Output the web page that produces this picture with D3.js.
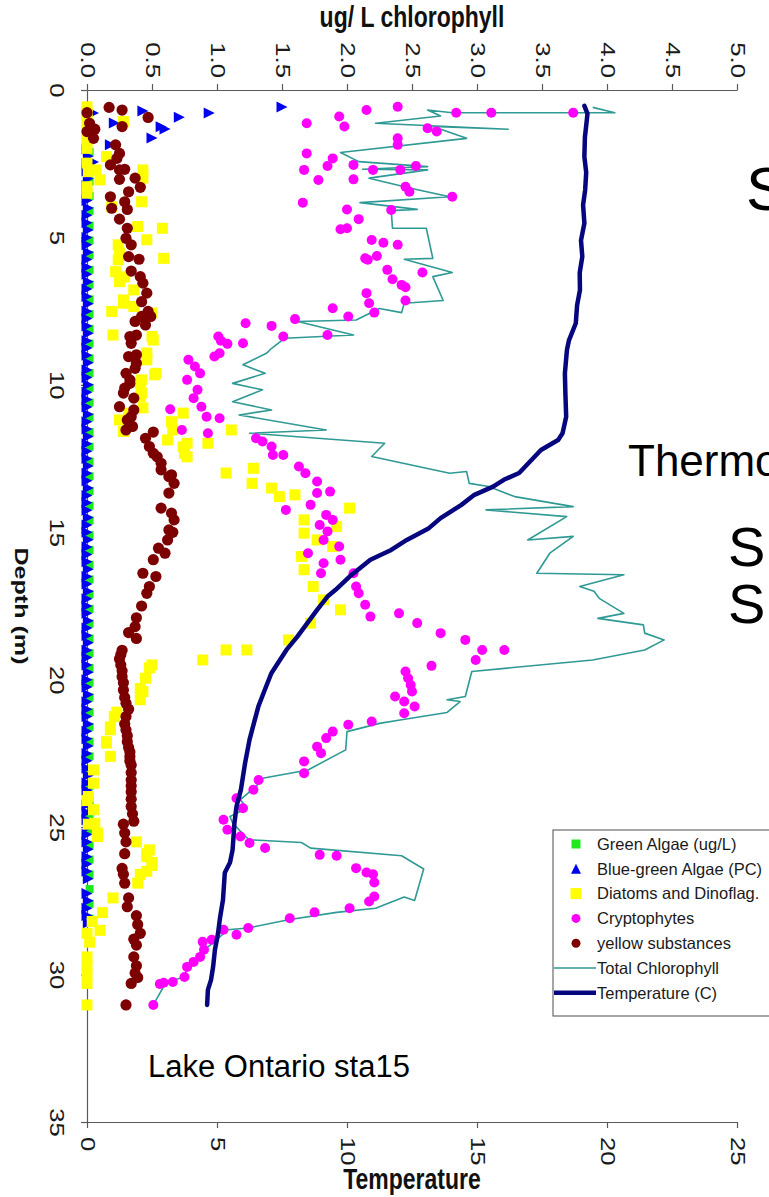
<!DOCTYPE html>
<html>
<head>
<meta charset="utf-8">
<script src="https://cdn.jsdelivr.net/npm/d3@7"></script>
<style>
  html, body { margin: 0; padding: 0; background: #ffffff; }
  svg { display: block; font-family: "Liberation Sans", Arial, Helvetica, sans-serif; }
</style>
</head>
<body>
<svg id="chart" width="769" height="1197"></svg>
<script>
// Vertical profile, Lake Ontario station 15: pigment groups (ug/L chlorophyll,
// top axis), total chlorophyll and temperature (bottom axis) against depth.

const chlTicks = [0, 0.5, 1, 1.5, 2, 2.5, 3, 3.5, 4, 4.5, 5];
const tempTicks = [0, 5, 10, 15, 20, 25];
const depthTicks = [0, 5, 10, 15, 20, 25, 30, 35];

// [depth (m), value]
const greenAlgae = [
  [2.1,0.02],[2.6,0.02],[3.1,0.02],[3.6,0.02],[4.1,0.02],[4.6,0.02],[5.1,0.02],[5.6,0.02],
  [6.1,0.02],[6.6,0.02],[7.1,0.02],[7.6,0.02],[8.1,0.02],[8.6,0.02],[9.1,0.02],[9.6,0.02],
  [10.1,0.02],[10.6,0.02],[11.1,0.02],[11.6,0.02],[12.1,0.02],[12.6,0.02],[13.1,0.02],[13.6,0.02],
  [14.1,0.02],[14.6,0.02],[15.1,0.02],[15.6,0.02],[16.1,0.02],[16.6,0.02],[17.1,0.02],[17.6,0.02],
  [18.1,0.02],[18.6,0.02],[19.1,0.02],[19.6,0.02],[20.1,0.02],[20.6,0.02],[21.1,0.02],[21.6,0.02],
  [22.1,0.02],[22.6,0.02],[23.1,0.02],[23.6,0.02],[24.1,0.02],[24.6,0.02],[25.1,0.02],[25.6,0.02],
  [26.1,0.02],[26.6,0.02],[27.1,0.02],[27.6,0.02],[28.1,0.02]
];

const blueGreen = [
  [0.58,1.50],[0.71,0.43],[0.78,0.94],[0.78,0.05],[0.92,0.71],[1.12,0.21],[1.25,0.57],
  [1.32,0.60],[1.63,0.50],[1.86,0.18],[2.44,0.05],
  [2.0,0.0],[2.25,0.01],[2.5,0.0],[2.75,0.0],[3.0,0.01],[3.25,0.0],[3.5,0.0],[3.75,0.0],
  [4.0,0.01],[4.25,0.0],[4.5,0.0],[4.75,0.01],[5.0,0.0],[5.25,0.0],[5.5,0.01],[5.75,0.0],
  [6.0,0.0],[6.25,0.0],[6.5,0.01],[6.75,0.0],[7.0,0.0],[7.25,0.01],[7.5,0.0],[7.75,0.0],
  [8.0,0.0],[8.25,0.01],[8.5,0.0],[8.75,0.0],[9.0,0.0],[9.25,0.01],[9.5,0.0],[9.75,0.0],
  [10.0,0.01],[10.25,0.0],[10.5,0.0],[10.75,0.0],[11.0,0.01],[11.25,0.0],[11.5,0.0],[11.75,0.01],
  [12.0,0.0],[12.25,0.0],[12.5,0.0],[12.75,0.01],[13.0,0.0],[13.25,0.0],[13.5,0.01],[13.75,0.0],
  [14.0,0.0],[14.25,0.0],[14.5,0.01],[14.75,0.0],[15.0,0.0],[15.25,0.01],[15.5,0.0],[15.75,0.0],
  [16.0,0.0],[16.25,0.01],[16.5,0.0],[16.75,0.0],[17.0,0.01],[17.25,0.0],[17.5,0.0],[17.75,0.0],
  [18.0,0.01],[18.25,0.0],[18.5,0.0],[18.75,0.01],[19.0,0.0],[19.25,0.0],[19.5,0.0],[19.75,0.01],
  [20.0,0.0],[20.25,0.0],[20.5,0.01],[20.75,0.0],[21.0,0.0],[21.25,0.0],[21.5,0.01],[21.75,0.0],
  [22.0,0.0],[22.25,0.01],[22.5,0.0],[22.75,0.0],[23.0,0.0],[23.25,0.01],[23.5,0.0],[23.75,0.0],
  [24.0,0.01],[24.25,0.0],[24.5,0.0],[24.75,0.0],[25.0,0.01],[25.25,0.0],[25.5,0.0],[25.75,0.01],
  [26.0,0.0],[26.25,0.0],[26.5,0.0],[26.75,0.01],[27.25,0.0],[27.5,0.01],[27.75,0.0],[28.0,0.0],
  [28.25,0.01]
];

const diatoms = [
  [0.57,0.0],[0.75,0.0],[0.85,0.0],[1.07,0.28],[1.13,0.0],[1.40,0.0],[1.70,0.0],[1.98,0.0],
  [2.26,0.15],[2.48,0.0],[2.71,0.07],[2.77,0.01],[2.71,0.43],[2.99,0.43],[3.05,0.10],[3.28,0.0],
  [3.50,0.0],[3.79,0.42],[3.96,0.19],[4.63,0.39],[4.69,0.58],[5.08,0.46],[5.25,0.24],[5.53,0.25],
  [5.71,0.59],[5.76,0.24],[6.16,0.22],[6.34,0.29],[6.50,0.25],[6.78,0.36],[7.12,0.28],[7.23,0.28],
  [7.34,0.36],[7.51,0.19],[7.56,0.50],[8.31,0.20],[8.36,0.50],[8.48,0.51],[8.92,0.46],[9.15,0.46],
  [9.61,0.53],[9.66,0.52],[9.83,0.42],[9.95,0.41],[10.28,0.42],[10.40,0.41],[10.78,0.43],[10.96,0.32],
  [11.19,0.25],[11.58,0.28],[10.96,0.74],[11.25,0.65],[11.53,0.66],[11.87,0.62],[11.98,0.77],[12.10,0.74],
  [12.32,0.75],[12.44,0.77],[11.98,0.93],[11.53,1.11],[12.99,1.07],[12.83,1.28],[13.34,1.27],[13.50,1.42],
  [13.79,1.48],[13.73,1.60],[14.18,2.02],[14.58,1.67],[14.80,1.92],[15.03,1.67],[15.26,1.77],[15.48,1.89],
  [15.82,1.65],[16.27,1.67],[16.84,1.74],[17.29,1.82],[17.63,1.95],[18.08,1.72],[18.65,1.55],[18.99,1.23],
  [18.99,1.07],[19.33,0.89],[19.50,0.50],[19.60,0.48],[19.95,0.45],[20.30,0.41],[20.40,0.43],[20.68,0.41],
  [21.10,0.23],[21.25,0.21],[21.60,0.18],[21.70,0.18],[22.10,0.15],[22.15,0.15],[22.60,0.18],[23.06,0.05],
  [23.51,0.05],[23.96,0.01],[24.10,0.0],[24.41,0.05],[24.87,0.06],[24.90,0.01],[25.20,0.08],[25.32,0.08],
  [25.50,0.38],[25.77,0.48],[25.90,0.46],[26.00,0.46],[26.20,0.50],[26.30,0.50],[26.50,0.46],[26.60,0.41],
  [26.90,0.39],[27.40,0.20],[27.90,0.12],[28.20,0.04],[28.50,0.10],[28.60,0.0],[28.90,0.02],[29.40,0.0],
  [29.70,0.0],[30.00,0.0],[30.30,0.0],[31.03,0.0]
];

const cryptophytes = [
  [0.57,2.39],[0.68,2.15],[0.77,2.84],[0.77,3.11],[0.77,3.74],[0.90,1.94],[1.13,1.69],[1.24,1.98],
  [1.30,2.62],[1.41,2.69],[1.64,2.39],[1.86,2.39],[2.15,1.69],[2.32,1.89],[2.54,2.05],[2.58,1.85],
  [2.58,2.53],[2.71,1.67],[2.71,2.20],[2.71,2.41],[3.03,2.05],[3.05,1.78],[3.28,2.45],[3.45,2.48],
  [3.62,2.81],[3.82,1.66],[4.05,2.00],[4.07,2.34],[4.38,2.09],[4.69,2.00],[4.72,1.95],[5.09,2.19],
  [5.18,2.28],[5.25,2.39],[5.63,2.23],[5.71,2.14],[5.76,2.16],[6.10,2.31],[6.19,2.58],[6.42,2.35],
  [6.61,2.42],[6.69,2.45],[6.89,2.15],[7.14,2.45],[7.23,2.17],[7.40,1.89],[7.55,2.21],[7.68,2.01],
  [7.77,1.60],[7.91,1.22],[8.00,1.42],[8.31,1.85],[8.36,1.51],[8.36,1.01],[8.50,1.03],[8.59,1.20],
  [8.61,1.08],[8.93,1.02],[9.04,0.98],[9.15,0.78],[9.38,0.83],[9.61,0.87],[9.83,0.77],[10.17,0.85],
  [10.45,0.82],[10.74,0.88],[10.83,0.64],[11.08,0.92],[11.13,1.02],[11.53,0.73],[11.64,0.93],[11.81,1.30],
  [11.92,1.35],[12.09,1.42],[12.38,1.43],[12.38,1.51],[12.77,1.63],[13.00,1.68],[13.28,1.77],[13.62,1.87],
  [13.67,1.77],[14.07,1.72],[14.24,1.53],[14.41,1.84],[14.58,1.89],[14.75,1.79],[14.97,1.85],[15.26,1.82],
  [15.48,1.94],[15.71,1.70],[15.93,1.95],[16.05,1.82],[16.39,2.05],[16.39,1.80],[16.84,2.07],[17.07,2.09],
  [17.46,2.14],[17.86,2.18],[17.75,2.40],[18.08,2.54],[18.42,2.72],[18.65,2.91],[18.99,3.04],[18.99,3.21],
  [19.33,2.99],[19.53,2.65],[19.72,2.45],[19.95,2.47],[20.18,2.49],[20.40,2.50],[20.57,2.37],[20.74,2.44],
  [20.91,2.52],[21.14,2.44],[21.42,2.19],[21.53,2.01],[21.76,1.89],[21.98,1.84],[22.27,1.77],[22.49,1.80],
  [22.77,1.67],[23.17,1.67],[23.40,1.32],[23.73,1.28],[24.02,1.15],[24.36,1.20],[24.75,1.05],[25.09,1.08],
  [25.32,1.18],[25.54,1.25],[25.71,1.37],[25.94,1.79],[25.97,1.92],[26.39,2.07],[26.54,2.15],[26.60,2.20],
  [26.88,2.21],[27.35,2.21],[27.52,2.17],[27.75,2.02],[27.89,1.75],[28.09,1.56],[28.42,1.24],[28.48,1.05],
  [28.65,1.15],[28.82,0.96],[28.89,0.89],[29.16,0.90],[29.40,0.87],[29.57,0.82],[29.74,0.77],[30.08,0.75],
  [30.25,0.66],[30.28,0.59],[30.32,0.56],[31.03,0.51]
];

const yellowSubstances = [
  [0.59,0.17],[0.68,0.27],[0.77,0.0],[0.93,0.47],[1.13,0.02],[1.24,0.27],[1.33,0.06],[1.41,0.0],
  [1.64,0.05],[1.86,0.22],[2.15,0.25],[2.32,0.23],[2.54,0.18],[2.69,0.29],[2.71,0.25],[2.99,0.37],
  [3.03,0.25],[3.30,0.41],[3.45,0.32],[3.62,0.18],[3.79,0.29],[4.01,0.19],[4.05,0.31],[4.38,0.25],
  [4.69,0.31],[5.03,0.30],[5.25,0.34],[5.65,0.32],[5.74,0.40],[6.14,0.34],[6.33,0.41],[6.55,0.43],
  [6.89,0.46],[7.18,0.42],[7.51,0.47],[7.68,0.49],[7.68,0.42],[7.85,0.37],[7.97,0.45],[8.31,0.38],
  [8.36,0.33],[8.59,0.34],[8.98,0.38],[9.04,0.32],[9.27,0.38],[9.44,0.37],[9.61,0.30],[9.83,0.33],
  [9.95,0.33],[10.11,0.29],[10.28,0.28],[10.45,0.36],[10.74,0.25],[10.85,0.36],[11.08,0.34],[11.19,0.31],
  [11.41,0.35],[11.53,0.30],[11.60,0.51],[11.81,0.45],[12.09,0.48],[12.32,0.51],[12.44,0.54],[12.66,0.57],
  [12.88,0.57],[13.05,0.65],[13.11,0.63],[13.34,0.67],[13.67,0.63],[14.18,0.57],[14.35,0.65],[14.58,0.67],
  [14.92,0.63],[15.00,0.66],[15.26,0.62],[15.54,0.55],[15.71,0.60],[15.93,0.51],[16.39,0.43],[16.50,0.53],
  [16.84,0.48],[17.07,0.46],[17.50,0.42],[17.90,0.38],[18.20,0.37],[18.40,0.32],[18.60,0.38],[19.00,0.27],
  [19.15,0.26],[19.30,0.25],[19.50,0.26],[19.70,0.27],[19.90,0.27],[20.10,0.28],[20.35,0.28],[20.60,0.29],
  [20.80,0.30],[21.00,0.32],[21.25,0.30],[21.50,0.29],[21.70,0.30],[21.90,0.31],[22.10,0.31],[22.30,0.32],
  [22.45,0.33],[22.60,0.33],[22.75,0.33],[22.90,0.34],[23.15,0.34],[23.40,0.34],[23.60,0.34],[23.80,0.34],
  [24.05,0.34],[24.30,0.34],[24.55,0.35],[24.80,0.36],[24.90,0.28],[25.20,0.29],[25.50,0.30],[25.90,0.29],
  [26.40,0.27],[26.60,0.28],[26.90,0.29],[27.40,0.32],[27.70,0.31],[28.00,0.38],[28.30,0.39],[28.60,0.41],
  [28.80,0.36],[29.00,0.38],[29.40,0.36],[29.70,0.38],[29.95,0.37],[30.10,0.39],[30.30,0.34],[31.03,0.30]
];

const totalChlorophyll = [
  [0.59,3.89],[0.77,4.06],[0.77,2.81],[0.68,2.62],[0.88,2.72],[1.13,2.22],[1.33,3.24],[1.24,2.66],
  [1.64,2.92],[2.12,1.95],[2.43,2.09],[2.60,2.62],[2.69,2.12],[2.71,2.62],[2.99,2.17],[3.33,2.49],
  [3.62,2.79],[3.82,2.10],[4.05,2.54],[4.09,2.34],[4.69,2.35],[4.69,2.61],[5.71,2.66],[5.74,2.44],
  [6.19,2.81],[6.33,2.66],[7.14,2.74],[7.23,2.44],[7.55,2.42],[7.41,2.25],[7.80,2.07],[7.85,1.62],
  [8.31,2.05],[8.42,1.52],[8.76,1.42],[8.93,1.38],[9.32,1.20],[9.61,1.37],[9.95,1.12],[10.17,1.35],
  [10.57,1.12],[10.85,1.42],[11.02,1.17],[11.53,1.84],[11.64,1.25],[11.98,2.29],[12.43,2.19],[13.00,2.79],
  [12.94,2.92],[13.34,2.94],[13.45,3.09],[13.79,3.29],[14.13,3.74],[14.24,3.07],[14.47,3.69],[15.26,3.39],
  [15.14,3.74],[15.71,3.56],[16.39,3.46],[16.44,4.13],[16.84,3.79],[17.00,3.90],[17.24,3.94],[17.75,4.13],
  [17.92,3.93],[18.14,4.28],[18.42,4.29],[18.65,4.44],[18.99,4.29],[19.33,3.89],[19.72,2.96],[20.57,2.91],
  [20.68,2.77],[20.74,2.87],[21.11,2.77],[21.36,2.42],[21.48,2.25],[21.76,2.00],[22.38,1.99],[23.06,1.70],
  [23.34,1.35],[23.62,1.30],[24.07,1.18],[24.36,1.23],[24.64,1.10],[24.86,1.12],[25.32,1.22],[25.43,1.25],
  [25.52,1.65],[25.71,1.72],[25.97,2.42],[26.42,2.59],[27.49,2.52],[27.37,2.44],[27.75,2.22],[27.89,1.92],
  [28.14,1.55],[28.42,1.24],[28.48,1.08],[28.82,1.00],[29.16,0.90],[29.40,0.87],[29.74,0.77],[30.08,0.75],
  [30.28,0.59],[30.40,0.59],[31.03,0.51]
];

const temperature = [
  [0.54,19.13],[0.80,19.25],[1.13,19.21],[1.60,19.15],[2.26,19.13],[2.80,19.20],[3.39,19.16],[3.90,19.08],
  [4.52,19.13],[5.10,19.00],[5.65,19.05],[6.20,18.95],[6.78,18.96],[7.30,18.85],[7.91,18.80],[8.48,18.54],
  [8.81,18.46],[9.61,18.38],[10.30,18.40],[11.08,18.43],[11.64,18.29],[11.87,18.12],[12.21,17.46],[12.99,16.62],
  [13.22,16.03],[13.45,15.62],[13.73,14.90],[14.07,14.40],[14.52,13.60],[14.86,13.15],[15.26,12.30],[15.60,11.70],
  [15.93,10.90],[16.50,10.10],[16.96,9.55],[17.18,9.25],[17.63,8.85],[18.54,8.09],[18.99,7.67],[19.78,7.09],
  [20.34,6.84],[20.91,6.59],[21.47,6.42],[22.04,6.25],[22.83,6.08],[23.73,5.92],[24.30,5.75],[24.87,5.67],
  [25.77,5.60],[26.20,5.50],[26.55,5.30],[27.47,5.23],[28.05,5.12],[28.60,5.04],[29.16,4.92],[29.74,4.85],
  [30.18,4.77],[30.52,4.65],[31.03,4.62]
];

const legendLabels = ["Green Algae (ug/L)", "Blue-green Algae (PC)", "Diatoms and Dinoflag.",
  "Cryptophytes", "yellow substances", "Total Chlorophyll", "Temperature (C)"];

// ---- layout ----
const plotL = 87, plotR = 737, plotT = 90, plotB = 1122;
const C = {
  green: "#1ee81e", blue: "#0000f0", yellow: "#ffff00", magenta: "#ff00ff",
  brown: "#7d0000", teal: "#2f9994", navy: "#06067e", axis: "#595959"
};

const svg = d3.select("#chart");
svg.append("rect").attr("width", 769).attr("height", 1197).attr("fill", "#fff");

const x = d3.scaleLinear().domain([0, 5]).range([plotL, plotR]);
const xT = d3.scaleLinear().domain([0, 25]).range([plotL, plotR]);
const y = d3.scaleLinear().domain([0, 35]).range([plotT, plotB]);

const TICK_FONT = 19.5, STRETCH = 1.32;

function styleAxis(g) {
  g.selectAll(".domain").attr("stroke", C.axis).attr("stroke-width", 1.2);
  g.selectAll(".tick line").attr("stroke", C.axis).attr("stroke-width", 1.2);
  g.selectAll(".tick text").attr("fill", "#1a1a1a").style("font-size", TICK_FONT + "px")
    .attr("x", null).attr("y", null).attr("dy", "0.35em");
}

// top axis: chlorophyll
const gTop = svg.append("g").attr("transform", `translate(0,${plotT})`)
  .call(d3.axisTop(x).tickValues(chlTicks).tickSize(6).tickSizeOuter(0).tickFormat(d3.format(".1f")));
styleAxis(gTop);
gTop.selectAll(".tick text").attr("text-anchor", "end")
  .attr("transform", `translate(0,-12) rotate(90) scale(${STRETCH},1)`);

// bottom axis: temperature
const gBot = svg.append("g").attr("transform", `translate(0,${plotB})`)
  .call(d3.axisBottom(xT).tickValues(tempTicks).tickSize(6).tickSizeOuter(0).tickFormat(d3.format("d")));
styleAxis(gBot);
gBot.selectAll(".tick text").attr("text-anchor", "start")
  .attr("transform", `translate(0,15) rotate(90) scale(${STRETCH},1)`);

// left axis: depth
const gLeft = svg.append("g").attr("transform", `translate(${plotL},0)`)
  .call(d3.axisLeft(y).tickValues(depthTicks).tickSize(6).tickSizeOuter(0).tickFormat(d3.format("d")));
styleAxis(gLeft);
gLeft.selectAll(".tick text").attr("text-anchor", "middle")
  .attr("transform", `translate(-30,0) rotate(90) scale(${STRETCH},1)`);

// axis titles
svg.append("text").attr("transform", `translate(${(plotL + plotR) / 2},27) scale(1,${STRETCH})`)
  .attr("text-anchor", "middle").style("font-size", "23px").style("font-weight", "bold")
  .attr("fill", "#111").text("ug/ L chlorophyll");
svg.append("text").attr("transform", `translate(${(plotL + plotR) / 2},1189) scale(1,${STRETCH})`)
  .attr("text-anchor", "middle").style("font-size", "23px").style("font-weight", "bold")
  .attr("fill", "#111").text("Temperature");
svg.append("text").attr("transform", `translate(22,${(plotT + plotB) / 2}) rotate(90) scale(${STRETCH},1)`)
  .attr("text-anchor", "middle").attr("dy", "0.35em").style("font-size", "19px").style("font-weight", "bold")
  .attr("fill", "#111").text("Depth (m)");

// ---- marks ----
const plot = svg.append("g");

const lineChl = d3.line().x(d => x(d[1])).y(d => y(d[0]));
const lineT = d3.line().x(d => xT(d[1])).y(d => y(d[0]));

plot.append("path").datum(totalChlorophyll).attr("d", lineChl)
  .attr("fill", "none").attr("stroke", C.teal).attr("stroke-width", 1.6).attr("stroke-linejoin", "round");

const sq = s => `M${-s / 2},${-s / 2}h${s}v${s}h${-s}Z`;
const triRight = s => `M${-s / 2},${-s / 2}L${s / 2},0L${-s / 2},${s / 2}Z`;
const triUp = s => `M0,${-s / 2}L${s / 2},${s / 2}L${-s / 2},${s / 2}Z`;

plot.append("g").selectAll("path").data(greenAlgae).join("path")
  .attr("d", sq(8)).attr("fill", C.green)
  .attr("transform", d => `translate(${x(d[1])},${y(d[0])})`);

plot.append("g").selectAll("path").data(blueGreen).join("path")
  .attr("d", triRight(11)).attr("fill", C.blue)
  .attr("transform", d => `translate(${x(d[1])},${y(d[0])})`);

plot.append("g").selectAll("path").data(diatoms).join("path")
  .attr("d", sq(11)).attr("fill", C.yellow)
  .attr("transform", d => `translate(${x(d[1])},${y(d[0])})`);

plot.append("g").selectAll("circle").data(cryptophytes).join("circle")
  .attr("cx", d => x(d[1])).attr("cy", d => y(d[0])).attr("r", 5).attr("fill", C.magenta);

plot.append("g").selectAll("circle").data(yellowSubstances).join("circle")
  .attr("cx", d => x(d[1])).attr("cy", d => y(d[0])).attr("r", 5.6).attr("fill", C.brown);

plot.append("path").datum(temperature).attr("d", lineT)
  .attr("fill", "none").attr("stroke", C.navy).attr("stroke-width", 4.5)
  .attr("stroke-linejoin", "round").attr("stroke-linecap", "round");

// ---- annotations ----
svg.append("text").attr("x", 148).attr("y", 1077).style("font-size", "31px").attr("fill", "#000")
  .text("Lake Ontario sta15");
svg.append("text").attr("x", 746).attr("y", 210).style("font-size", "62px").attr("fill", "#000").text("S");
svg.append("text").attr("x", 628).attr("y", 476).style("font-size", "44px").attr("fill", "#000").text("Thermo");
svg.append("text").attr("x", 728).attr("y", 566).style("font-size", "56px").attr("fill", "#000").text("S");
svg.append("text").attr("x", 728).attr("y", 623).style("font-size", "56px").attr("fill", "#000").text("S");

// ---- legend ----
const lg = svg.append("g").attr("transform", "translate(553,830)");
lg.append("rect").attr("width", 240).attr("height", 186).attr("fill", "#fff")
  .attr("stroke", "#4d4d4d").attr("stroke-width", 1);
const rowY = i => 14 + i * 24.8;
const mx = 23;
lg.append("path").attr("d", sq(9)).attr("fill", C.green).attr("transform", `translate(${mx},${rowY(0)})`);
lg.append("path").attr("d", triUp(10)).attr("fill", C.blue).attr("transform", `translate(${mx},${rowY(1)})`);
lg.append("path").attr("d", sq(11)).attr("fill", C.yellow).attr("transform", `translate(${mx},${rowY(2)})`);
lg.append("circle").attr("cx", mx).attr("cy", rowY(3)).attr("r", 4.5).attr("fill", C.magenta);
lg.append("circle").attr("cx", mx).attr("cy", rowY(4)).attr("r", 4.5).attr("fill", C.brown);
lg.append("line").attr("x1", 1).attr("x2", 43).attr("y1", rowY(5)).attr("y2", rowY(5))
  .attr("stroke", C.teal).attr("stroke-width", 1.6);
lg.append("line").attr("x1", 1).attr("x2", 43).attr("y1", rowY(6)).attr("y2", rowY(6))
  .attr("stroke", C.navy).attr("stroke-width", 4.5);
lg.selectAll("text.lbl").data(legendLabels).join("text").attr("class", "lbl")
  .attr("x", 44).attr("y", (d, i) => rowY(i)).attr("dy", "0.35em")
  .style("font-size", "16.5px").attr("fill", "#1a1a1a").text(d => d);
</script>
</body>
</html>
